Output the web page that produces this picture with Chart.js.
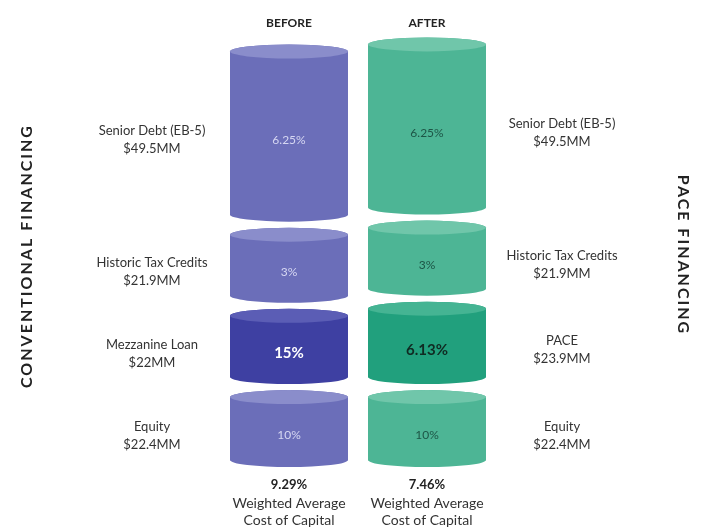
<!DOCTYPE html>
<html lang="en">
<head>
    <meta charset="UTF-8">
    <title>Before / After Financing</title>
    <script src="https://cdn.jsdelivr.net/npm/chart.js@4.4.0/dist/chart.umd.min.js"></script>
    <style>
        body { margin: 0; background: #fff; }
    </style>
</head>
<body>
    <canvas id="chart" width="704" height="527"></canvas>

    <script>
        // columns
        const categories = ['BEFORE', 'AFTER'];
        // layers, bottom to top
        const beforeNames = ['Equity', 'Mezzanine Loan', 'Historic Tax Credits', 'Senior Debt (EB-5)'];
        const afterNames = ['Equity', 'PACE', 'Historic Tax Credits', 'Senior Debt (EB-5)'];
        const beforeAmounts = [22.4, 22, 21.9, 49.5];   // $MM
        const afterAmounts = [22.4, 23.9, 21.9, 49.5];  // $MM
        const beforeRates = ['10%', '15%', '3%', '6.25%'];
        const afterRates = ['10%', '6.13%', '3%', '6.25%'];
        const highlightLayer = 1;
        const waccValues = ['9.29%', '7.46%'];
        const sideTitles = ['CONVENTIONAL FINANCING', 'PACE FINANCING'];

        const FONT = 'Lato, "Open Sans", sans-serif';
        const bodyCol = ['#6b6eb9', '#4db595'];
        const capCol = ['#8a8dcb', '#70c6aa'];
        const hiBodyCol = ['#3e40a2', '#21a07d'];
        const hiCapCol = ['#5b5db5', '#45b493'];

        const totals = categories.map((c, i) =>
            (i === 0 ? beforeAmounts : afterAmounts).reduce((a, b) => a + b, 0));

        const datasets = beforeNames.map((name, k) => ({
            label: name,
            data: [beforeAmounts[k], afterAmounts[k]],
            backgroundColor: 'transparent',
            categoryPercentage: 1,
            barPercentage: 0.855
        }));

        function sideTitle(ctx, text, x, y, angle) {
            ctx.save();
            ctx.font = 'bold 16px ' + FONT;
            ctx.fillStyle = '#222';
            ctx.textAlign = 'center';
            ctx.textBaseline = 'middle';
            if ('letterSpacing' in ctx) ctx.letterSpacing = '2px';
            ctx.translate(x, y);
            ctx.rotate(angle);
            ctx.fillText(text, 0, 0);
            ctx.restore();
        }

        const cylinders = {
            id: 'cylinders',
            beforeDatasetsDraw(chart) {
                const ctx = chart.ctx;
                const gap = 6, ry = 7;
                chart.data.datasets.forEach((ds, k) => {
                    const meta = chart.getDatasetMeta(k);
                    meta.data.forEach((el, i) => {
                        const p = el.getProps(['x', 'y', 'base', 'width'], true);
                        const x = p.x, rx = p.width / 2;
                        const yt = p.y + gap / 2, yb = p.base - gap / 2;
                        const hi = k === highlightLayer;
                        const body = hi ? hiBodyCol[i] : bodyCol[i];
                        const cap = hi ? hiCapCol[i] : capCol[i];

                        ctx.save();
                        ctx.beginPath();
                        ctx.moveTo(x - rx, yt + ry);
                        ctx.lineTo(x - rx, yb - ry);
                        ctx.ellipse(x, yb - ry, rx, ry, 0, Math.PI, 0, true);
                        ctx.lineTo(x + rx, yt + ry);
                        ctx.ellipse(x, yt + ry, rx, ry, 0, 0, Math.PI, true);
                        ctx.closePath();
                        ctx.fillStyle = body;
                        ctx.fill();

                        ctx.beginPath();
                        ctx.ellipse(x, yt + ry, rx, ry, 0, 0, Math.PI * 2);
                        ctx.fillStyle = cap;
                        ctx.fill();

                        // rate text
                        const rates = i === 0 ? beforeRates : afterRates;
                        const cy = (yt + 2 * ry + yb) / 2;
                        ctx.textAlign = 'center';
                        ctx.textBaseline = 'middle';
                        if (hi) {
                            ctx.font = 'bold 15px ' + FONT;
                            ctx.fillStyle = i === 0 ? '#ffffff' : '#102a22';
                        } else {
                            ctx.font = '12px ' + FONT;
                            ctx.fillStyle = i === 0 ? '#d6d7f2' : '#1d5546';
                        }
                        ctx.fillText(rates[k], x, cy);

                        // side labels
                        const names = i === 0 ? beforeNames : afterNames;
                        const amts = i === 0 ? beforeAmounts : afterAmounts;
                        const lx = i === 0 ? 152 : 562;
                        ctx.font = '13px ' + FONT;
                        ctx.fillStyle = '#333';
                        ctx.fillText(names[k], lx, cy - 9);
                        ctx.fillText('$' + amts[k] + 'MM', lx, cy + 9);
                        ctx.restore();
                    });
                });

                // weighted average under columns
                chart.getDatasetMeta(0).data.forEach((el, i) => {
                    ctx.save();
                    ctx.textAlign = 'center';
                    ctx.textBaseline = 'middle';
                    ctx.fillStyle = '#222';
                    ctx.font = 'bold 13px ' + FONT;
                    ctx.fillText(waccValues[i], el.x, chart.chartArea.bottom + 15);
                    ctx.font = '14px ' + FONT;
                    ctx.fillStyle = '#333';
                    ctx.fillText('Weighted Average', el.x, chart.chartArea.bottom + 33);
                    ctx.fillText('Cost of Capital', el.x, chart.chartArea.bottom + 50);
                    ctx.restore();
                });

                sideTitle(ctx, sideTitles[0], 27, 256, -Math.PI / 2);
                sideTitle(ctx, sideTitles[1], 683, 255, Math.PI / 2);
                return false;
            }
        };

        const ctx = document.getElementById('chart').getContext('2d');
        const myChart = new Chart(ctx, {
            type: 'bar',
            data: {
                labels: categories,
                datasets: datasets
            },
            options: {
                responsive: false,
                animation: false,
                layout: {
                    padding: { left: 220, right: 208, top: 12, bottom: 57 }
                },
                plugins: {
                    legend: { display: false },
                    tooltip: { enabled: false }
                },
                scales: {
                    x: {
                        stacked: true,
                        position: 'top',
                        grid: { display: false, drawTicks: false },
                        border: { display: false },
                        ticks: {
                            padding: 4,
                            color: '#222',
                            font: { family: FONT, size: 12, weight: 'bold' }
                        }
                    },
                    y: {
                        stacked: true,
                        display: false,
                        min: 0,
                        max: Math.max(...totals)
                    }
                }
            },
            plugins: [cylinders]
        });
    </script>
</body>
</html>
